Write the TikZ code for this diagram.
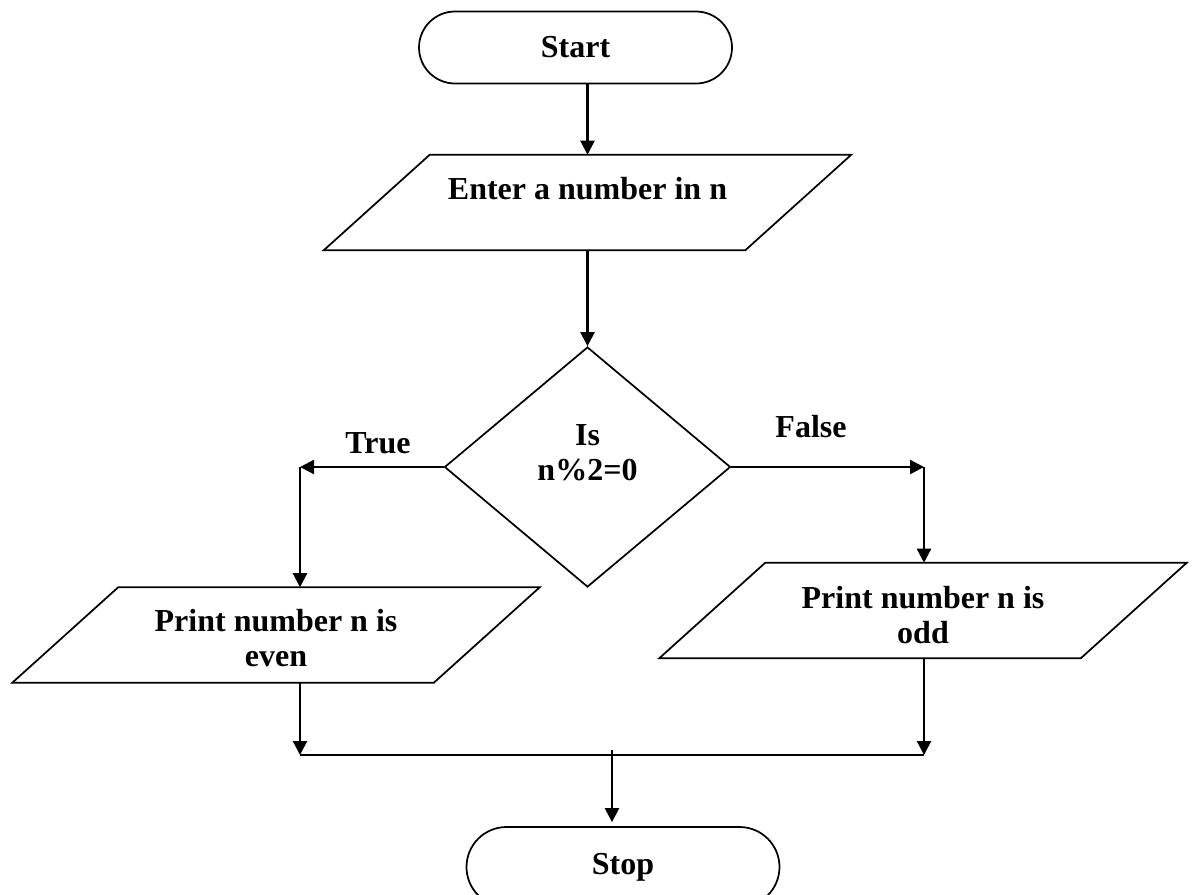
\documentclass[tikz,border=0pt]{standalone}
\usepackage{fontspec}
\setmainfont{Liberation Serif}
\usetikzlibrary{shapes.misc,shapes.geometric,arrows.meta,calc}

\begin{document}
\begin{tikzpicture}[
  x=0.75pt, y=-0.75pt,
  every node/.style={font=\fontsize{24pt}{26.25pt}\selectfont\bfseries, inner sep=0pt},
  outline/.style={line width=1.3pt},
  terminal/.style={rounded rectangle, draw, outline, minimum width=313*0.75pt, minimum height=72*0.75pt},
  iobox/.style={rectangle, minimum width=421*0.75pt, minimum height=95*0.75pt},
  decision/.style={diamond, draw, outline, aspect=1.19, minimum width=286*0.75pt, minimum height=240*0.75pt},
  caption/.style={align=center},
  flow/.style={line width=1.7pt, -{Triangle[length=14*0.75pt, width=14*0.75pt]}},
  joint/.style={line width=1.7pt}
]
  \useasboundingbox (0,0) rectangle (1192,894);
  \clip (0,0) rectangle (1192,894);

  % terminals
  \node[terminal] (start) at (575.5,47.5) {Start};
  \node[terminal, minimum height=80*0.75pt] (stop) at (623,867) {Stop};

  % input / output boxes: a body rectangle, outlined as a parallelogram
  \node[iobox, label={[name=inptext, caption, yshift=13.5*0.75pt]center:Enter a number in n}]
    (inp) at (587.5,202.5) {};
  \node[iobox, label={[name=eventext, caption, yshift=-3.5*0.75pt]center:Print number n is\\even}]
    (lp) at (276,635) {};
  \node[iobox, label={[name=oddtext, caption, yshift=-4.5*0.75pt]center:Print number n is\\odd}]
    (rp) at (923,610.5) {};
  \foreach \bx in {inp,lp,rp}{
    \draw[outline] ([xshift=53*0.75pt]\bx.north west) -- ([xshift=53*0.75pt]\bx.north east)
      -- ([xshift=-53*0.75pt]\bx.south east) -- ([xshift=-53*0.75pt]\bx.south west) -- cycle;
  }

  % decision
  \node[decision, label={[name=dectext, caption, yshift=14.5*0.75pt]center:Is\\n\%2=0}]
    (dec) at (587.5,467) {};

  % branch labels
  \node (truelbl) at (378,443) {True};
  \node (falselbl) at (811,427) {False};

  % routing points
  \coordinate (tcorner) at (300,467);
  \coordinate (fcorner) at (924,467);
  \coordinate (jl) at (300,755);
  \coordinate (jr) at (924,755);
  \coordinate (jtop) at (612,750);

  % connectors
  \draw[flow] (start.south -| inp.north) -- (inp.north);
  \draw[flow] (inp.south) -- (dec.north);
  \draw[flow] (dec.west) -- (tcorner);
  \draw[flow] (tcorner) -- (tcorner |- lp.north);
  \draw[flow] (dec.east) -- (fcorner);
  \draw[flow] (fcorner) -- (fcorner |- rp.north);
  \draw[flow] (tcorner |- lp.south) -- (jl);
  \draw[flow] (fcorner |- rp.south) -- (jr);
  \draw[joint] (jl) -- (jr);
  \draw[flow, shorten >=4*0.75pt] (jtop) -- (jtop |- stop.north);
\end{tikzpicture}
\end{document}
